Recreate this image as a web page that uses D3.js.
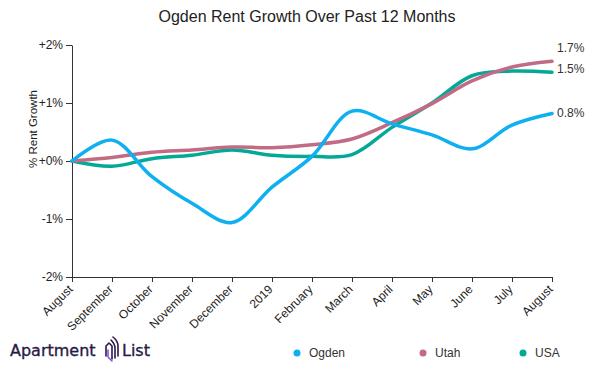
<!DOCTYPE html>
<html><head><meta charset="utf-8">
<script src="https://cdn.jsdelivr.net/npm/d3@7"></script>
<style>body{margin:0;background:#fff;font-family:"Liberation Sans",Arial,sans-serif;}</style>
</head><body><svg id="c" width="603" height="375"></svg>
<script>
const months = ["August","September","October","November","December","2019","February","March","April","May","June","July","August"];
const ogden = [0, 0.36, -0.27, -0.73, -1.06, -0.45, 0.08, 0.86, 0.64, 0.45, 0.21, 0.62, 0.82];
const utah  = [0, 0.06, 0.15, 0.19, 0.24, 0.23, 0.28, 0.38, 0.66, 0.99, 1.38, 1.62, 1.72];
const usa   = [0, -0.09, 0.04, 0.1, 0.19, 0.1, 0.08, 0.11, 0.58, 1.0, 1.47, 1.55, 1.53];
const yTicks = [-2, -1, 0, 1, 2];
const seriesNames = ["Ogden","Utah","USA"];
const colors = ["#0fb0f0","#c26b85","#03a896"];
const endLabels = ["0.8%","1.7%","1.5%"];

const svg = d3.select("#c");
const x = d3.scalePoint().domain(d3.range(months.length)).range([72, 552]);
const y = d3.scaleLinear().domain([-2, 2]).range([277, 45]);

svg.append("text").attr("x", 307).attr("y", 22).attr("text-anchor","middle")
  .attr("font-size", 16).attr("fill","#222").text("Ogden Rent Growth Over Past 12 Months");

const fmt = v => (v > 0 ? "+" : v < 0 ? "-" : "+") + Math.abs(v) + "%";
const ya = svg.append("g").attr("transform","translate(72,0)")
  .call(d3.axisLeft(y).tickValues(yTicks).tickFormat(fmt).tickSize(6).tickSizeOuter(0));
ya.selectAll("text").attr("font-size",12).attr("fill","#222").attr("font-family","Liberation Sans, Arial, sans-serif");
ya.selectAll("line,path").attr("stroke","#333");

const xa = svg.append("g").attr("transform","translate(0,277)")
  .call(d3.axisBottom(x).tickFormat(i => months[i]).tickSize(5).tickSizeOuter(0));
xa.selectAll("text").attr("font-size",12).attr("fill","#222").attr("font-family","Liberation Sans, Arial, sans-serif")
  .attr("text-anchor","end").attr("x",0).attr("y",0).attr("dy",0)
  .attr("transform","translate(1,13) rotate(-45)");
xa.selectAll("line,path").attr("stroke","#333");

svg.append("text").attr("transform","translate(37,129) rotate(-90)").attr("text-anchor","middle")
  .attr("font-size",11.5).attr("fill","#222").text("% Rent Growth");

const line = d3.line().x((d,i)=>x(i)).y(d=>y(d)).curve(d3.curveCatmullRom.alpha(0.5));
const data = [usa, utah, ogden];
const cols = [colors[2], colors[1], colors[0]];
data.forEach((s, k) => {
  svg.append("path").attr("d", line(s)).attr("fill","none").attr("stroke", cols[k])
    .attr("stroke-width", 3.5).attr("stroke-linecap","round");
});

const labelY = [113, 48, 69];
endLabels.forEach((t, k) => {
  svg.append("text").attr("x", 557).attr("y", labelY[k]).attr("dy","0.35em")
    .attr("font-size",12).attr("fill","#333").text(t);
});

const lg = [297, 423, 523];
seriesNames.forEach((n, k) => {
  svg.append("circle").attr("cx", lg[k]).attr("cy", 353).attr("r", 3.5).attr("fill", colors[k]);
  svg.append("text").attr("x", lg[k] + 12).attr("y", 353).attr("dy","0.35em")
    .attr("font-size",12).attr("fill","#333").text(n);
});

// logo
const lgG = svg.append("g");
lgG.append("text").attr("x", 10).attr("y", 355.5).attr("font-size", 16)
  .attr("font-family","DejaVu Sans, sans-serif").attr("fill","#2a1a47")
  .attr("stroke","#2a1a47").attr("stroke-width",0.35).text("Apartment");
lgG.append("text").attr("x", 122).attr("y", 355.5).attr("font-size", 16)
  .attr("font-family","DejaVu Sans, sans-serif").attr("fill","#2a1a47")
  .attr("stroke","#2a1a47").attr("stroke-width",0.35).text("List");
const ic = lgG.append("g").attr("fill","none").attr("stroke-width",1.6).attr("stroke-linecap","round").attr("stroke-linejoin","round");
ic.append("path").attr("d","M106,356 L106,346 L109,343 L112,346 L112,359").attr("stroke","#2a1a47");
ic.append("path").attr("d","M108,350 L108,357 L112,361").attr("stroke","#8a55e6");
ic.append("path").attr("d","M111,340 Q115,344 115,348 L115,358").attr("stroke","#2a1a47");
ic.append("path").attr("d","M113,337 Q118,341 118,346 L118,356").attr("stroke","#2a1a47");
</script></body></html>
